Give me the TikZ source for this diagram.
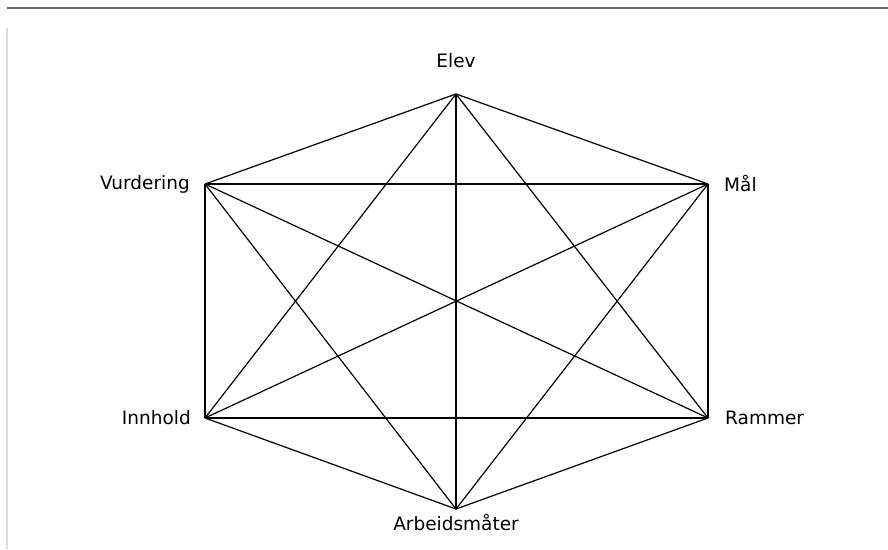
\documentclass[tikz,border=0pt]{standalone}
\usepackage{fontspec}
\setmainfont{DejaVu Sans}
\usepackage{tikz}
\usetikzlibrary{positioning}
\definecolor{rulegray}{HTML}{666666}
\definecolor{framegray}{HTML}{DDDDDD}
\tikzset{
  edge/.style={black, line width=1.2pt},
  vlabel/.style={font=\fontsize{18.5}{22}\selectfont, inner sep=0pt, text=black}
}
\begin{document}
\begin{tikzpicture}[x=1pt, y=-1pt]
  \useasboundingbox (0,0) rectangle (888,549);
  % frame
  \draw[rulegray, line width=2pt] (7,7.5) -- (888,7.5);
  \draw[framegray, line width=1.3pt] (7,28) -- (7,549);
  % corners of the hexagon
  \coordinate (elev) at (456,94);
  \coordinate (vurd) at (205,184);
  \coordinate (maal) at (708,184);
  \coordinate (innh) at (205,418);
  \coordinate (ramm) at (708,418);
  \coordinate (arb) at (456,509);
  % labels
  \node[vlabel, above=26pt of elev] (elevtxt) {Elev};
  \node[vlabel, left=15pt of vurd] (vurdtxt) {Vurdering};
  \node[vlabel, right=16pt of maal] (maaltxt) {Mål};
  \node[vlabel, left=14pt of innh] (innhtxt) {Innhold};
  \node[vlabel, right=17pt of ramm] (rammtxt) {Rammer};
  \node[vlabel, below=5pt of arb] (arbtxt) {Arbeidsmåter};
  % every pair joined
  \foreach \a/\rest in {elev/{vurd,maal,innh,ramm,arb}, vurd/{maal,innh,ramm,arb},
                        maal/{innh,ramm,arb}, innh/{ramm,arb}, ramm/{arb}}
    \foreach \b in \rest
      \draw[edge] (\a) -- (\b);
\end{tikzpicture}
\end{document}
